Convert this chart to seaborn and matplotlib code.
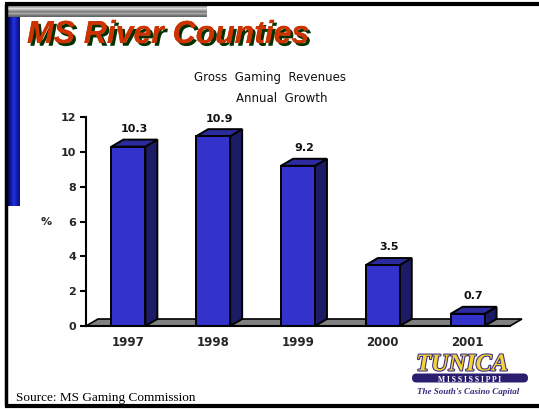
import matplotlib
matplotlib.use("Agg")
import matplotlib.pyplot as plt
import seaborn as sns
import pandas as pd
import numpy as np
from matplotlib.patches import Polygon, FancyBboxPatch
import matplotlib.patheffects as pe

years = ["1997", "1998", "1999", "2000", "2001"]
growth = [10.3, 10.9, 9.2, 3.5, 0.7]
y_ticks = [0, 2, 4, 6, 8, 10, 12]

sns.set_theme(style="white")
plt.rcParams['font.family'] = ['DejaVu Sans']

W, H = 539, 409
fig = plt.figure(figsize=(W / 100, H / 100), dpi=100)
fig.patch.set_facecolor("white")

ax = fig.add_axes([86 / W, 83 / H, (510 - 86) / W, (326 - 117) / H])
ax.set_facecolor("none")

df = pd.DataFrame({"year": years, "growth": growth})
front = "#3333CC"
side = "#1C1C66"
topc = "#2B2B9E"
sns.barplot(data=df, x="year", y="growth", color=front, saturation=1,
            width=0.4, edgecolor="black", linewidth=1.4, ax=ax, zorder=3)

ax.set_xlim(-0.5, 4.5)
ax.set_ylim(0, 12)
dx = 12 / 84.8
dy = 7 / 17.4

# floor
floor = Polygon([(-0.5, 0), (4.5, 0), (4.5 + dx, dy), (-0.5 + dx, dy)],
                closed=True, facecolor="#808080", edgecolor="black",
                linewidth=1.2, zorder=1, clip_on=False)
ax.add_patch(floor)

for p, v in zip(ax.patches[:len(growth)], growth):
    x0 = p.get_x()
    w = p.get_width()
    x1 = x0 + w
    sidep = Polygon([(x1, 0), (x1 + dx, dy), (x1 + dx, v + dy), (x1, v)],
                    closed=True, facecolor=side, edgecolor="black",
                    linewidth=1.4, zorder=2.5, clip_on=False)
    topp = Polygon([(x0, v), (x0 + dx, v + dy), (x1 + dx, v + dy), (x1, v)],
                   closed=True, facecolor=topc, edgecolor="black",
                   linewidth=1.4, zorder=2.6, clip_on=False)
    ax.add_patch(sidep)
    ax.add_patch(topp)
    ax.annotate(f"{v}", (x0 + w / 2 + dx / 2, v + dy), xytext=(0, 4),
                textcoords="offset points", ha="center", va="bottom",
                fontsize=8, fontweight="bold", color="#111111",
                annotation_clip=False)

for b in ax.patches[:len(growth)]:
    b.set_zorder(3)

ax.set_yticks(y_ticks)
ax.set_yticklabels([str(t) for t in y_ticks], fontsize=8, fontweight="bold")
ax.set_xticks(range(len(years)))
ax.set_xticklabels(years, fontsize=8.5, fontweight="bold")
ax.set_xticks(np.arange(-0.5, len(years), 1.0), minor=True)
ax.tick_params(axis="x", which="major", length=0, pad=7.5)
ax.tick_params(axis="x", which="minor", length=4, width=1.5, color="black", direction="out")
ax.tick_params(axis="y", length=4, width=1.5, color="black", direction="out", left=True, pad=3)
ax.set_xlabel("")
ax.set_ylabel("")
for s in ["top", "right"]:
    ax.spines[s].set_visible(False)
for s in ["left", "bottom"]:
    ax.spines[s].set_color("black")
    ax.spines[s].set_linewidth(1.5)
    ax.spines[s].set_zorder(4)

fig.text(46 / W, 1 - 222 / H, "%", ha="center", va="center", fontsize=8, fontweight="bold")

fig.text(270 / W, 1 - 78 / H, "Gross  Gaming  Revenues", ha="center", va="center",
         fontsize=8.5, color="#111111")
fig.text(282 / W, 1 - 98 / H, "Annual  Growth", ha="center", va="center",
         fontsize=8.5, color="#111111")

# decorations in figure pixel coords
deco = fig.add_axes([0, 0, 1, 1], zorder=-1)
grad = np.array([0.55, 0.62, 0.72, 0.85, 0.75, 0.62, 0.5, 0.55, 0.65, 0.55, 0.45, 0.4])
deco.imshow(grad[:, None] * np.ones((1, 10)), cmap="gray", vmin=0, vmax=1,
            extent=[8, 207, 17, 5], aspect="auto", zorder=1)
bgrad = np.array([[0.1, 0.25, 0.45, 0.6, 0.45, 0.3, 0.2]])
deco.imshow(bgrad, cmap=matplotlib.colors.LinearSegmentedColormap.from_list("b", ["#000066", "#2233DD"]),
            vmin=0, vmax=0.6, extent=[8, 20, 206, 17], aspect="auto", zorder=1)
deco.set_xlim(0, W)
deco.set_ylim(H, 0)
deco.axis("off")
# frame lines
deco.plot([5, W], [4, 4], color="black", lw=3, solid_capstyle="butt")
deco.plot([6, 6], [4, 406], color="black", lw=2.5, solid_capstyle="butt")
deco.plot([5, W], [406, 406], color="black", lw=3, solid_capstyle="butt")

# title
fig.text(27 / W, 1 - 35 / H, "MS River Counties", ha="left", va="center",
         fontsize=23, fontweight="bold", style="italic", color="#CC3300",
         family=["Liberation Sans"],
         path_effects=[pe.withSimplePatchShadow(offset=(2, -2), shadow_rgbFace="#003300", alpha=1.0),
                       pe.Normal()])

# source
fig.text(16 / W, 1 - 398 / H, "Source: MS Gaming Commission", ha="left", va="center",
         fontsize=9.5, family=["Liberation Serif"], color="black")

# Tunica logo
band = FancyBboxPatch((412, 373.5), 116, 9, boxstyle="round,pad=0,rounding_size=4.5",
                      facecolor="#2A1E6E", edgecolor="none", zorder=2)
deco.add_patch(band)
deco.text(462, 370.5, "TUNICA", ha="center", va="baseline", fontsize=17.5, fontweight="bold",
          style="italic", family=["Liberation Serif"], color="#F2D43A", zorder=3,
          path_effects=[pe.withStroke(linewidth=1.5, foreground="#3A2A80")])
deco.text(470, 379.5, "M I S S I S S I P P I", ha="center", va="center", fontsize=5.5,
          fontweight="bold", family=["Liberation Serif"], color="white", zorder=4)
deco.text(468, 392, "The South's Casino Capital", ha="center", va="center", fontsize=6.5,
          style="italic", fontweight="bold", family=["Liberation Serif"], color="#3A2A80", zorder=4)

fig.savefig("out.png", dpi=100)
